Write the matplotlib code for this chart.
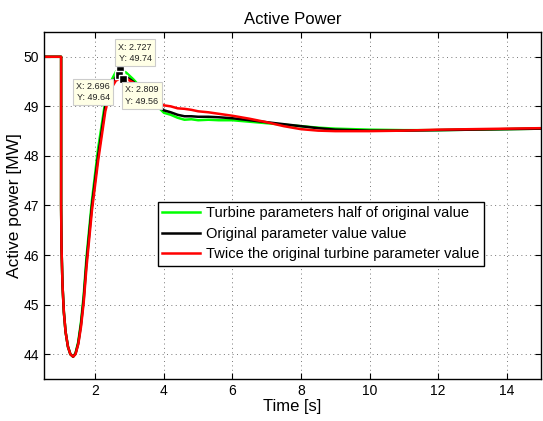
import matplotlib
matplotlib.use("Agg")
import matplotlib.pyplot as plt

plt.rcParams['font.family'] = ['Liberation Sans', 'DejaVu Sans']

# time axis [s]
t = [0.5, 1.0, 1.0, 1.01, 1.04, 1.08, 1.13, 1.2, 1.27, 1.35, 1.42, 1.5, 1.58, 1.66,
     1.74, 1.9, 2.08, 2.29, 2.45, 2.6, 2.73, 2.9, 3.1, 3.3, 3.6, 4.0, 4.2, 4.4, 4.6,
     4.8, 5.0, 5.3, 5.6, 6.0, 6.5, 7.0, 7.5, 8.0, 8.5, 9.0, 9.5, 10.0, 11.0, 12.0,
     13.0, 14.0, 15.0]

# active power [MW]
half_params = [50, 50, 47.0, 46.2, 45.4, 44.85, 44.45, 44.15, 44.0, 43.95, 44.02, 44.25,
               44.65, 45.2, 45.95, 47.1, 48.15, 49.1, 49.5, 49.7, 49.74, 49.68, 49.55,
               49.4, 49.15, 48.87, 48.83, 48.77, 48.73, 48.74, 48.72, 48.73, 48.72,
               48.72, 48.69, 48.66, 48.63, 48.6, 48.57, 48.55, 48.54, 48.53, 48.52,
               48.52, 48.53, 48.54, 48.55]
original = [50, 50, 47.0, 46.2, 45.4, 44.85, 44.45, 44.15, 44.0, 43.95, 44.01, 44.22,
            44.6, 45.12, 45.85, 47.0, 48.0, 49.0, 49.4, 49.6, 49.64, 49.6, 49.5, 49.38,
            49.15, 48.92, 48.88, 48.83, 48.8, 48.8, 48.79, 48.79, 48.78, 48.76, 48.72,
            48.68, 48.64, 48.6, 48.56, 48.53, 48.52, 48.51, 48.51, 48.52, 48.53,
            48.54, 48.55]
twice_params = [50, 50, 47.0, 46.2, 45.4, 44.85, 44.45, 44.15, 44.0, 43.95, 44.0, 44.2,
                44.55, 45.05, 45.75, 46.9, 47.9, 48.9, 49.35, 49.52, 49.56, 49.56,
                49.48, 49.38, 49.2, 49.02, 49.0, 48.96, 48.95, 48.93, 48.9, 48.88,
                48.85, 48.81, 48.75, 48.68, 48.6, 48.54, 48.51, 48.5, 48.5, 48.5,
                48.51, 48.53, 48.54, 48.55, 48.56]

labels = ['Turbine parameters half of original value',
          'Original parameter value value',
          'Twice the original turbine parameter value']
colors = ['#00ff00', 'black', 'red']

# data tips (x, y) and where their boxes sit
tips_x = [2.727, 2.696, 2.809]
tips_y = [49.74, 49.64, 49.56]
box_x = [3.16, 1.94, 3.36]
box_y = [50.08, 49.29, 49.22]

fig = plt.figure(figsize=(5.43, 4.21), dpi=100)
ax = fig.add_axes([0.081, 0.0998, 0.915, 0.8242])

for y, lab, c in zip([half_params, original, twice_params], labels, colors):
    ax.plot(t, y, color=c, lw=1.8, label=lab)

ax.plot(tips_x, tips_y, 's', ms=5.5, mfc='black', mec='white', mew=1, ls='none')
for x, y, bx, by in zip(tips_x, tips_y, box_x, box_y):
    ax.text(bx, by, f"X: {x}\nY: {y}", fontsize=6.5, ha='center', va='center',
            linespacing=1.35, color='#222222',
            bbox=dict(boxstyle='square,pad=0.35', fc='#ffffe6', ec='#cccccc', lw=0.8))

ax.set_xlim(0.5, 15)
ax.set_ylim(43.5, 50.5)
ax.set_xticks(range(2, 15, 2))
ax.set_yticks(range(44, 51))
ax.tick_params(direction='in', top=True, right=True, labelsize=10, length=4)
ax.grid(True, ls=(0, (1, 3.5)), color='#777777', lw=0.7)
for s in ax.spines.values():
    s.set_linewidth(1.0)

ax.set_title("Active Power", fontsize=12)
ax.set_xlabel("Time [s]", fontsize=12, labelpad=1)
ax.set_ylabel("Active power [MW]", fontsize=12.5, labelpad=1)

leg = ax.legend(loc='lower left', bbox_to_anchor=(0.229, 0.326), fontsize=10.5,
                fancybox=False, edgecolor='black', framealpha=1,
                handlelength=2.6, borderpad=0.3, labelspacing=0.45,
                handletextpad=0.4, borderaxespad=0)
leg.get_frame().set_linewidth(1.0)

fig.savefig("out.png", dpi=100)
